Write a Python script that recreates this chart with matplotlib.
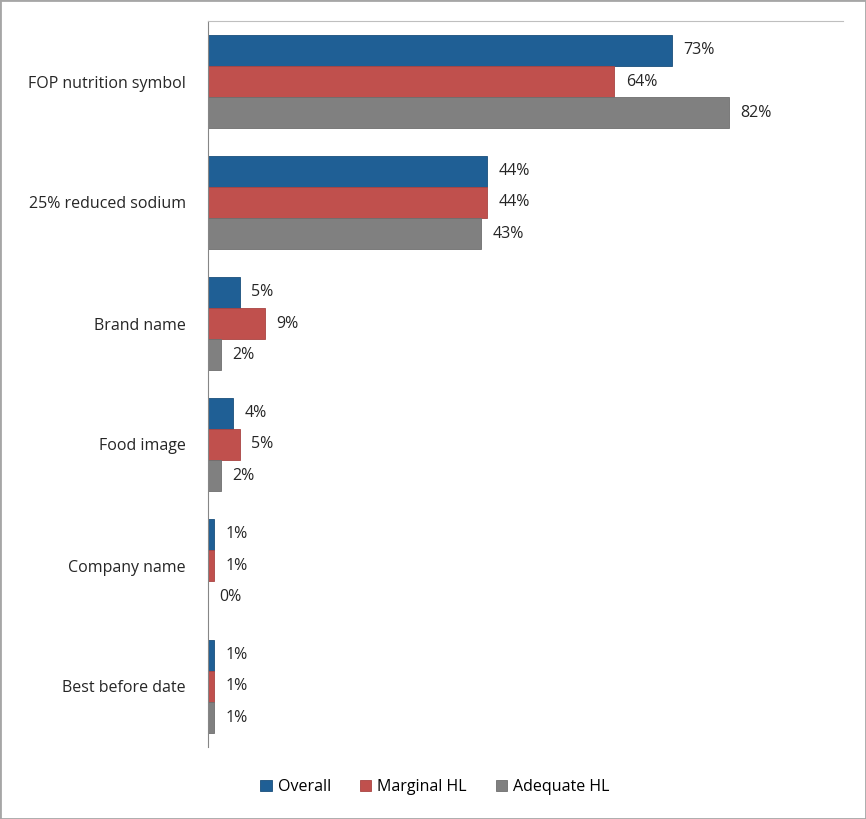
import numpy as np
import matplotlib.pyplot as plt
from matplotlib.patches import Rectangle

categories = ["FOP nutrition symbol", "25% reduced sodium", "Brand name",
              "Food image", "Company name", "Best before date"]
overall = [73, 44, 5, 4, 1, 1]
marginal = [64, 44, 9, 5, 1, 1]
adequate = [82, 43, 2, 2, 0, 1]
series_names = ["Overall", "Marginal HL", "Adequate HL"]
colors = ["#1F5F95", "#C0504D", "#808080"]
edges = ["#1A4F7C", "#A94442", "#6E6E6E"]

plt.rcParams['font.family'] = ['Open Sans', 'DejaVu Sans']

fig = plt.figure(figsize=(8.66, 8.19), dpi=100)
ax = fig.add_axes([208/866, 1-747/819, 635/866, 726/819])

y = np.arange(len(categories))
h = 0.258
for i, vals in enumerate([overall, marginal, adequate]):
    pos = y + (i - 1) * h
    ax.barh(pos, vals, height=h, color=colors[i], edgecolor=edges[i],
            linewidth=0.6, label=series_names[i])
    for p, v in zip(pos, vals):
        ax.text(v + 1.8, p, f"{v}%", va='center', ha='left', fontsize=11.5, color='#262626')

ax.set_xlim(0, 100)
ax.set_ylim(len(categories) - 0.5, -0.5)
ax.set_yticks(y)
ax.set_yticklabels(categories, fontsize=11.5, color='#262626')
ax.set_xticks([])
ax.tick_params(axis='y', length=0, pad=16)
for s in ['right', 'bottom']:
    ax.spines[s].set_visible(False)
ax.spines['left'].set_color('#868686')
ax.spines['top'].set_color('#BFBFBF')

fig.legend(loc='center', bbox_to_anchor=(435/866, 1-787/819), ncol=3, frameon=False,
           fontsize=11.5, handlelength=0.7, handleheight=0.7, handletextpad=0.4,
           columnspacing=1.8)

fig.patches.append(Rectangle((0, 0), 1, 1, transform=fig.transFigure, fill=False,
                             edgecolor='#A6A6A6', linewidth=2))

fig.savefig('out.png', dpi=100)
